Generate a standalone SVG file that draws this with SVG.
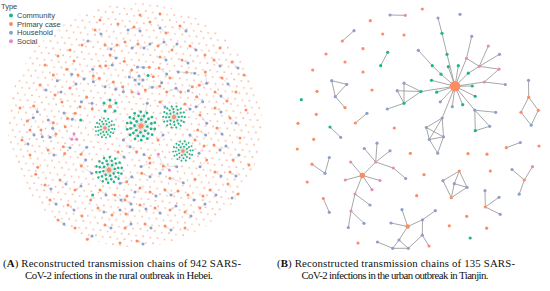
<svg xmlns="http://www.w3.org/2000/svg" xmlns:xlink="http://www.w3.org/1999/xlink" width="550" height="291" viewBox="0 0 550 291">
<style>
.o{fill:#fc8d62}.b{fill:#8da0cb}.g{fill:#1eb589}.p{fill:#e78ac3}
#A circle{r:1.5px}
#B circle{r:1.6px}
.ea{fill:none;stroke:#c4c4c4;stroke-width:.5}
.eb{fill:none;stroke:#9d9d9d;stroke-width:.9}
.sp{fill:none;stroke:#cfcfcf;stroke-width:.45}
.lg{font-family:"Liberation Sans",Arial,sans-serif;font-size:7.5px;fill:#444}
.cap{font-family:"Liberation Serif","Times New Roman",serif;font-size:10.8px;fill:#111}
</style>
<defs>
<pattern id="fp" width="14.4" height="12.4" patternUnits="userSpaceOnUse" patternTransform="rotate(8)">
<g fill="#f6a581"><circle cx="1.8" cy="3.1" r="0.9"/><circle cx="9.1" cy="3.5" r="0.8"/><circle cx="5.3" cy="9.4" r="0.85"/><circle cx="12.6" cy="8.9" r="0.95"/></g>
</pattern>
<g id="star">
<path class="sp" d="M0 0L5.5 .5M0 0L3.6 4.2M0 0L-.4 5.6M0 0L-4.1 3.7M0 0L-5.6-.3M0 0L-3.8-4M0 0L.3-5.5M0 0L4.2-3.6M0 0L8.8 2.6M0 0L6.2 6.6M0 0L2.1 8.9M0 0L-2.7 8.6M0 0L-6.6 6.1M0 0L-9 2.1M0 0L-8.7-2.7M0 0L-6.3-6.5M0 0L-2.2-8.9M0 0L2.6-8.7M0 0L6.5-6.2M0 0L9-2.2M0 0L12 2.6M0 0L9.7 7.5M0 0L5.5 11M0 0L.2 12.3M0 0L-5.2 11.2M0 0L-9.5 7.8M0 0L-12 2.9M0 0L-12-2.6M0 0L-9.7-7.5M0 0L-5.5-11M0 0L-.2-12.3M0 0L5.2-11.2M0 0L9.5-7.8M0 0L12-2.9"/>
<g class="g">
<circle cx="5.5" cy=".5" r="1.2"/><circle cx="3.6" cy="4.2" r="1.2"/><circle cx="-.4" cy="5.6" r="1.2"/><circle cx="-4.1" cy="3.7" r="1.2"/><circle cx="-5.6" cy="-.3" r="1.2"/><circle cx="-3.8" cy="-4" r="1.2"/><circle cx=".3" cy="-5.5" r="1.2"/><circle cx="4.2" cy="-3.6" r="1.2"/>
<circle cx="8.8" cy="2.6" r="1.2"/><circle cx="6.2" cy="6.6" r="1.2"/><circle cx="2.1" cy="8.9" r="1.2"/><circle cx="-2.7" cy="8.6" r="1.2"/><circle cx="-6.6" cy="6.1" r="1.2"/><circle cx="-9" cy="2.1" r="1.2"/><circle cx="-8.7" cy="-2.7" r="1.2"/><circle cx="-6.3" cy="-6.5" r="1.2"/><circle cx="-2.2" cy="-8.9" r="1.2"/><circle cx="2.6" cy="-8.7" r="1.2"/><circle cx="6.5" cy="-6.2" r="1.2"/><circle cx="9" cy="-2.2" r="1.2"/>
<circle cx="12" cy="2.6" r="1.2"/><circle cx="9.7" cy="7.5" r="1.2"/><circle cx="5.5" cy="11" r="1.2"/><circle cx=".2" cy="12.3" r="1.2"/><circle cx="-5.2" cy="11.2" r="1.2"/><circle cx="-9.5" cy="7.8" r="1.2"/><circle cx="-12" cy="2.9" r="1.2"/><circle cx="-12" cy="-2.6" r="1.2"/><circle cx="-9.7" cy="-7.5" r="1.2"/><circle cx="-5.5" cy="-11" r="1.2"/><circle cx="-.2" cy="-12.3" r="1.2"/><circle cx="5.2" cy="-11.2" r="1.2"/><circle cx="9.5" cy="-7.8" r="1.2"/><circle cx="12" cy="-2.9" r="1.2"/>
</g>
<circle class="o" r="2.2"/>
</g>
</defs>

<g id="legend">
<text class="lg" x="1" y="8.5">Type</text>
<circle class="g" cx="11" cy="15.4" r="2"/><text class="lg" x="17" y="18">Community</text>
<circle class="o" cx="11" cy="24" r="2"/><text class="lg" x="17" y="26.7">Primary case</text>
<circle class="b" cx="11" cy="32.7" r="2"/><text class="lg" x="17" y="35.4">Household</text>
<circle class="p" cx="11" cy="41.3" r="2"/><text class="lg" x="17" y="44">Social</text>
</g>

<g id="A">
<ellipse id="a-isolated-cases" cx="135" cy="125" rx="127" ry="122" fill="url(#fp)" opacity=".8"/>
<g id="a-connectors">
<path class="ea" d="M66.7 69.3L71.7 74.3M53.3 75L57.3 80.7M92.7 69.3L93.3 76L93.3 81.7L99.3 78.3M105.7 65.7L112.3 65M131.7 70L129.3 77M137.5 67L143.5 67.5L149.3 67.3M135 80L139 76L143 80L139 84ZM135 80L143 80M153.3 76.7L148 75.5M159 68L166.7 74L170 78M178.3 72L186.7 72.3L194.7 73.3M205.3 72L206.7 83.3L199.3 85.3M105 86.7L113.3 82L115.7 89.3M122.7 86.7L123.3 91.7M132 92L138.7 93.7M145.3 90L152.3 87.3L159.7 86.3L161.7 82.7M166.7 92L176 88.3L180.7 92M188.3 90.7L192.3 86.7M81.3 101.7L86.7 97.3M92 103.3L92.3 108.7M75.3 113.3L72.3 119.3M64 113L67.5 118.5M74 134L76.7 139.3L71.7 139.3ZM63.3 146.7L70 147.7M81 154.3L86.7 147.3M85.7 160L81.3 166L91.7 173.3M33.7 106L37.3 111.7M27.3 121L33.3 117.7M48.3 120L53.3 122.7L52.7 128.3L56 134L50 137.3M41 130L42.3 136.7M90.7 200L92.7 195M92 236L87.3 239.3M196.7 96.7L202.7 101.7L196 106.7M200 115L206.7 123.3M197.7 130L205.7 135M204 146L199 153.3M206.7 160L200 166.7M123.3 140L130 146.7L136.7 151.7M144 154.5L149.5 158M158.3 154.3L163.3 166L169.3 170M163.3 166L176.7 166.7M163.3 166L160 173.3M150 163L141 166.5M141.7 173.3L150 176.7M131.7 176.7L126.7 181.7L120 183.3M170 178.3L183.3 182.7M95 30L101 34M128 30L134 27L140 31M160 28L166 33M180 26L186 31M82 45L88 41M105 45L111 49L117 45M132 48L138 44L144 48L150 44M158 46L164 42M172 50L177 44M190 46L196 50M110 55L116 58M160 57L166 60M182 60L188 63M214 60L220 66M222 78L228 84M215 92L221 96L227 101M215 108L221 112M230 118L236 123M217 128L222 134M214 145L220 150L226 146M233 160L239 155M215 172L221 176M210 190L216 195M232 198L238 194M232 62L238 68M100 190L106 195M115 195L121 200L127 196M135 192L140 188M150 192L156 196M165 190L171 195L178 191M188 195L194 200M98 208L104 212M120 210L126 214L132 210M140 205L146 209M155 208L160 213M170 210L176 206M185 212L191 216M200 208L205 204M105 225L111 228M125 228L131 224M145 224L151 228M165 226L171 230M137 241L143 244M45 185L51 189M60 180L66 184M75 190L81 186M50 200L56 204M68 205L74 210M58 220L64 224M40 85L46 90M55 95L61 92M70 88L76 84M22 140L28 144M110 106.5L104 103M110 106.5L116 103M110 106.5L105 111M110 106.5L115 111M110 106.5L110 100M141 126L147.3 103.3M141 126L123.3 140M185 104L190 109M160 102L165 107M158 140L163 135M48 150L54 155M118 152L124 157M78 75L84 79M195 140L190 135M230 172L236 176M30 130L34 135M125 200L131 204"/>
</g>
<g id="a-community-clusters">
<use href="#star" xlink:href="#star" transform="translate(141 126) scale(1.15)"/>
<use href="#star" xlink:href="#star" transform="translate(105 128) rotate(20) scale(.78)"/>
<use href="#star" xlink:href="#star" transform="translate(174 117) rotate(40) scale(.88)"/>
<use href="#star" xlink:href="#star" transform="translate(183 151) rotate(10) scale(.8)"/>
<use href="#star" xlink:href="#star" transform="translate(109 170) rotate(30) scale(1.05)"/>
</g>
<g id="a-primary" class="o">
<circle cx="74" cy="61"/><circle cx="66.7" cy="69.3"/><circle cx="53.3" cy="75"/><circle cx="93.3" cy="76"/><circle cx="99.3" cy="78.3"/><circle cx="100" cy="66"/><circle cx="105.7" cy="65.7"/><circle cx="124.3" cy="61.3"/><circle cx="131.7" cy="70"/><circle cx="149.3" cy="67.3"/><circle cx="153.3" cy="76.7"/><circle cx="159" cy="68"/><circle cx="170" cy="78"/><circle cx="186.7" cy="72.3"/><circle cx="205.3" cy="72"/><circle cx="199.3" cy="85.3"/><circle cx="113.3" cy="82"/><circle cx="122.7" cy="86.7"/><circle cx="132" cy="92"/><circle cx="145.3" cy="90"/><circle cx="159.7" cy="86.3"/><circle cx="166.7" cy="92"/><circle cx="180.7" cy="92"/><circle cx="192.3" cy="86.7"/><circle cx="86.7" cy="97.3"/><circle cx="92.3" cy="108.7"/><circle cx="80" cy="106.7"/><circle cx="75.3" cy="113.3"/><circle cx="67.5" cy="118.5"/><circle cx="65.3" cy="126.7"/><circle cx="63.3" cy="146.7"/><circle cx="64.7" cy="153.5"/><circle cx="81" cy="154.3"/><circle cx="81.3" cy="166"/><circle cx="33.7" cy="106"/><circle cx="27.3" cy="121"/><circle cx="53.3" cy="122.7"/><circle cx="56" cy="134"/><circle cx="41" cy="130"/><circle cx="37.7" cy="167.3"/><circle cx="35.7" cy="174.3"/><circle cx="90.7" cy="200"/><circle cx="87.3" cy="239.3"/><circle cx="196.7" cy="96.7"/><circle cx="200" cy="115"/><circle cx="197.7" cy="130"/><circle cx="204" cy="146"/><circle cx="206.7" cy="160"/><circle cx="195" cy="179.3"/><circle cx="136.7" cy="151.7"/><circle cx="149.5" cy="158"/><circle cx="163.3" cy="166"/><circle cx="150" cy="163"/><circle cx="141.7" cy="173.3"/><circle cx="126.7" cy="181.7"/><circle cx="170" cy="178.3"/><circle cx="95" cy="30"/><circle cx="118" cy="24"/><circle cx="134" cy="27"/><circle cx="150" cy="22"/><circle cx="166" cy="33"/><circle cx="180" cy="26"/><circle cx="82" cy="45"/><circle cx="105" cy="45"/><circle cx="117" cy="45"/><circle cx="125" cy="42"/><circle cx="138" cy="44"/><circle cx="158" cy="46"/><circle cx="172" cy="50"/><circle cx="190" cy="46"/><circle cx="205" cy="55"/><circle cx="70" cy="50"/><circle cx="110" cy="55"/><circle cx="160" cy="57"/><circle cx="182" cy="60"/><circle cx="58" cy="56"/><circle cx="100" cy="20"/><circle cx="160" cy="14"/><circle cx="140" cy="15"/><circle cx="214" cy="60"/><circle cx="222" cy="78"/><circle cx="215" cy="92"/><circle cx="227" cy="101"/><circle cx="236" cy="92"/><circle cx="215" cy="108"/><circle cx="230" cy="118"/><circle cx="217" cy="128"/><circle cx="240" cy="138"/><circle cx="214" cy="145"/><circle cx="233" cy="160"/><circle cx="215" cy="172"/><circle cx="228" cy="184"/><circle cx="210" cy="190"/><circle cx="238" cy="194"/><circle cx="246" cy="110"/><circle cx="249" cy="165"/><circle cx="244" cy="75"/><circle cx="220" cy="48"/><circle cx="232" cy="62"/><circle cx="100" cy="190"/><circle cx="115" cy="195"/><circle cx="127" cy="196"/><circle cx="140" cy="188"/><circle cx="150" cy="192"/><circle cx="165" cy="190"/><circle cx="178" cy="191"/><circle cx="188" cy="195"/><circle cx="203" cy="196"/><circle cx="98" cy="208"/><circle cx="112" cy="215"/><circle cx="126" cy="214"/><circle cx="140" cy="205"/><circle cx="155" cy="208"/><circle cx="170" cy="210"/><circle cx="185" cy="212"/><circle cx="200" cy="208"/><circle cx="105" cy="225"/><circle cx="125" cy="228"/><circle cx="145" cy="224"/><circle cx="165" cy="226"/><circle cx="185" cy="228"/><circle cx="120" cy="243"/><circle cx="137" cy="241"/><circle cx="45" cy="185"/><circle cx="60" cy="180"/><circle cx="75" cy="190"/><circle cx="50" cy="200"/><circle cx="68" cy="205"/><circle cx="82" cy="216"/><circle cx="58" cy="220"/><circle cx="75" cy="228"/><circle cx="45" cy="65"/><circle cx="40" cy="85"/><circle cx="55" cy="95"/><circle cx="70" cy="88"/><circle cx="62" cy="102"/><circle cx="22" cy="140"/><circle cx="30" cy="155"/><circle cx="20" cy="108"/><circle cx="185" cy="104"/><circle cx="160" cy="102"/><circle cx="158" cy="140"/><circle cx="48" cy="150"/><circle cx="118" cy="152"/><circle cx="78" cy="75"/><circle cx="195" cy="140"/><circle cx="230" cy="172"/><circle cx="30" cy="130"/><circle cx="125" cy="200"/><circle cx="110" cy="106.5" style="r:1.9px"/>
</g>
<g id="a-household" class="b">
<circle cx="71.7" cy="74.3"/><circle cx="57.3" cy="80.7"/><circle cx="92.7" cy="69.3"/><circle cx="93.3" cy="81.7"/><circle cx="112.3" cy="65"/><circle cx="129.3" cy="77"/><circle cx="137.5" cy="67"/><circle cx="143.5" cy="67.5"/><circle cx="135" cy="80"/><circle cx="139" cy="76"/><circle cx="143" cy="80"/><circle cx="139" cy="84"/><circle cx="166.7" cy="74"/><circle cx="178.3" cy="72"/><circle cx="194.7" cy="73.3"/><circle cx="206.7" cy="83.3"/><circle cx="105" cy="86.7"/><circle cx="115.7" cy="89.3"/><circle cx="123.3" cy="91.7"/><circle cx="152.3" cy="87.3"/><circle cx="161.7" cy="82.7"/><circle cx="176" cy="88.3"/><circle cx="188.3" cy="90.7"/><circle cx="81.3" cy="101.7"/><circle cx="92" cy="103.3"/><circle cx="72.3" cy="119.3"/><circle cx="64" cy="113"/><circle cx="70" cy="147.7"/><circle cx="86.7" cy="147.3"/><circle cx="85.7" cy="160"/><circle cx="91.7" cy="173.3"/><circle cx="37.3" cy="111.7"/><circle cx="33.3" cy="117.7"/><circle cx="48.3" cy="120"/><circle cx="52.7" cy="128.3"/><circle cx="50" cy="137.3"/><circle cx="42.3" cy="136.7"/><circle cx="92" cy="236"/><circle cx="202.7" cy="101.7"/><circle cx="196" cy="106.7"/><circle cx="206.7" cy="123.3"/><circle cx="205.7" cy="135"/><circle cx="199" cy="153.3"/><circle cx="200" cy="166.7"/><circle cx="123.3" cy="140"/><circle cx="130" cy="146.7"/><circle cx="144" cy="154.5"/><circle cx="176.7" cy="166.7"/><circle cx="160" cy="173.3"/><circle cx="141" cy="166.5"/><circle cx="150" cy="176.7"/><circle cx="131.7" cy="176.7"/><circle cx="120" cy="183.3"/><circle cx="183.3" cy="182.7"/><circle cx="147.3" cy="103.3"/><circle cx="101" cy="34"/><circle cx="128" cy="30"/><circle cx="140" cy="31"/><circle cx="160" cy="28"/><circle cx="186" cy="31"/><circle cx="88" cy="41"/><circle cx="111" cy="49"/><circle cx="132" cy="48"/><circle cx="144" cy="48"/><circle cx="150" cy="44"/><circle cx="164" cy="42"/><circle cx="177" cy="44"/><circle cx="196" cy="50"/><circle cx="116" cy="58"/><circle cx="166" cy="60"/><circle cx="188" cy="63"/><circle cx="220" cy="66"/><circle cx="228" cy="84"/><circle cx="221" cy="96"/><circle cx="221" cy="112"/><circle cx="236" cy="123"/><circle cx="222" cy="134"/><circle cx="220" cy="150"/><circle cx="226" cy="146"/><circle cx="239" cy="155"/><circle cx="221" cy="176"/><circle cx="216" cy="195"/><circle cx="232" cy="198"/><circle cx="238" cy="68"/><circle cx="106" cy="195"/><circle cx="121" cy="200"/><circle cx="135" cy="192"/><circle cx="156" cy="196"/><circle cx="171" cy="195"/><circle cx="194" cy="200"/><circle cx="104" cy="212"/><circle cx="120" cy="210"/><circle cx="132" cy="210"/><circle cx="146" cy="209"/><circle cx="160" cy="213"/><circle cx="176" cy="206"/><circle cx="191" cy="216"/><circle cx="205" cy="204"/><circle cx="111" cy="228"/><circle cx="131" cy="224"/><circle cx="151" cy="228"/><circle cx="171" cy="230"/><circle cx="143" cy="244"/><circle cx="51" cy="189"/><circle cx="66" cy="184"/><circle cx="81" cy="186"/><circle cx="56" cy="204"/><circle cx="74" cy="210"/><circle cx="64" cy="224"/><circle cx="46" cy="90"/><circle cx="61" cy="92"/><circle cx="76" cy="84"/><circle cx="28" cy="144"/><circle cx="190" cy="109"/><circle cx="165" cy="107"/><circle cx="163" cy="135"/><circle cx="54" cy="155"/><circle cx="124" cy="157"/><circle cx="84" cy="79"/><circle cx="190" cy="135"/><circle cx="236" cy="176"/><circle cx="34" cy="135"/><circle cx="131" cy="204"/>
</g>
<g id="a-social" class="p">
<circle cx="138.7" cy="93.7"/><circle cx="74" cy="134"/><circle cx="76.7" cy="139.3"/><circle cx="71.7" cy="139.3"/><circle cx="158.3" cy="154.3"/><circle cx="169.3" cy="170"/>
</g>
<g id="a-community" class="g">
<circle cx="148" cy="75.5"/><circle cx="92.7" cy="195"/><circle cx="80.7" cy="120"/><circle cx="104" cy="103"/><circle cx="116" cy="103"/><circle cx="105" cy="111"/><circle cx="115" cy="111"/><circle cx="110" cy="100"/>
</g>
</g>

<g id="B">
<g id="b-connectors">
<path class="eb" d="M390 15L405.3 15.3M354 30.7L342.3 41M387.7 52.3L380.7 65.7M331.7 80.7L346.7 84.3L335.3 96.7ZM335.3 96.7L345 107.7M367 113.3L355.3 123M330 127L340.7 137.3M329.3 157.5L325 173.3L312 164.2M323.3 198.5L329.3 212.3M362.3 175.5L350.7 162M362.3 175.5L375.7 162M375.7 162L364.3 148.5M375.7 162L377 143.2M375.7 162L390 150.8M375.7 162L393.3 168L405.7 178.5M362.3 175.5L345.3 180M362.3 175.5L380 180.5M362.3 175.5L372 189.7M362.3 175.5L355 194L370 205M355 194L351 211L364 223.3M351 211L348.3 227.5M438 18L442 33.3L447 54.3L455 86.3M418.3 50.3L432.3 65.7L441 74.2L455 86.3M471.7 36.3L466.5 58.3L455 86.3M466.5 58.3L479.3 66.3L488.3 46M479.3 66.3L499.5 54.3M479.3 66.3L499 69.2L484.3 82M455 86.3L468.3 73.2L479.3 66.3M455 86.3L484.3 82L505.3 84.5M455 86.3L448.3 66.7M455 86.3L458.3 65.7M455 86.3L431.5 80.3M455 86.3L421 91.5M455 86.3L472.3 86M455 86.3L436.7 92.2M455 86.3L475.2 96.3M455 86.3L440.3 101.8M455 86.3L452.3 106.7M455 86.3L462.7 104.7M455 86.3L474.8 110.2M455 86.3L442.2 118M421 91.5L404 83.2L404 103.3L397.2 90.7L421 91.5L404 103.3L387.3 109M474.8 110.2L495.7 112.3M474.8 110.2L475.3 130.7L489.7 126.3L474.8 110.2M442.2 118L426.3 127.5L443.5 136.8L442.2 118L429.3 139.5L426.3 127.5M429.3 139.5L443.5 136.8L437.7 153.2L429.3 139.5M528.5 80.3L528.7 97.2L521 112.3L531.2 125.2L538.3 110.3L528.7 97.2M506.3 147.7L520.3 142.5M459.3 171L443 180.7L451.3 197.7L454.3 183.7L459.3 171L467 187.3L451.3 197.7M454.3 183.7L467 187.3M524.3 180L512 169.5M524.3 180L532.5 166.7M524.3 180L519.2 194.2M485.3 207L485 190.7M485.3 207L499 197.3M485.3 207L500.2 214.3M407.7 226.5L402 209.7M407.7 226.5L391 223M407.7 226.5L422.5 219.8L435.3 210.7M422.5 219.8L422.3 235.2L408.3 248.3M422.3 235.2L429 246M407.7 226.5L399 240L392.7 248.3L408.3 248.3L399 240M392.7 248.3L377.5 242"/>
</g>
<g id="b-hub-cluster">
<circle class="b" cx="438" cy="18"/><circle class="b" cx="418.3" cy="50.3"/><circle class="b" cx="471.7" cy="36.3"/><circle class="b" cx="499.5" cy="54.3"/><circle class="b" cx="505.3" cy="84.5"/><circle class="b" cx="440.3" cy="101.8"/><circle class="b" cx="452.3" cy="106.7"/><circle class="b" cx="474.8" cy="110.2"/><circle class="b" cx="442.2" cy="118"/><circle class="b" cx="404" cy="83.2"/><circle class="b" cx="397.2" cy="90.7"/><circle class="b" cx="387.3" cy="109"/><circle class="b" cx="495.7" cy="112.3"/><circle class="b" cx="489.7" cy="126.3"/><circle class="b" cx="426.3" cy="127.5"/><circle class="b" cx="443.5" cy="136.8"/><circle class="b" cx="429.3" cy="139.5"/><circle class="b" cx="437.7" cy="153.2"/>
<circle class="g" cx="442" cy="33.3"/><circle class="g" cx="447" cy="54.3"/><circle class="g" cx="432.3" cy="65.7"/><circle class="g" cx="441" cy="74.2"/><circle class="g" cx="448.3" cy="66.7"/><circle class="g" cx="458.3" cy="65.7"/><circle class="g" cx="431.5" cy="80.3"/><circle class="g" cx="421" cy="91.5"/><circle class="g" cx="468.3" cy="73.2"/><circle class="g" cx="472.3" cy="86"/><circle class="g" cx="436.7" cy="92.2"/><circle class="g" cx="475.2" cy="96.3"/><circle class="g" cx="462.7" cy="104.7"/><circle class="g" cx="404" cy="103.3"/><circle class="g" cx="475.3" cy="130.7"/>
<circle class="p" cx="466.5" cy="58.3"/><circle class="p" cx="479.3" cy="66.3"/><circle class="p" cx="488.3" cy="46"/><circle class="p" cx="499" cy="69.2"/><circle class="p" cx="484.3" cy="82"/>
<circle class="o" cx="455" cy="86.3" style="r:5.3px"/>
</g>
<g id="b-social-cluster">
<circle class="b" cx="364.3" cy="148.5"/><circle class="b" cx="377" cy="143.2"/><circle class="b" cx="390" cy="150.8"/><circle class="b" cx="405.7" cy="178.5"/><circle class="b" cx="370" cy="205"/><circle class="b" cx="364" cy="223.3"/><circle class="b" cx="348.3" cy="227.5"/>
<circle class="p" cx="350.7" cy="162"/><circle class="p" cx="375.7" cy="162"/><circle class="p" cx="393.3" cy="168"/><circle class="p" cx="345.3" cy="180"/><circle class="p" cx="380" cy="180.5"/><circle class="p" cx="372" cy="189.7"/><circle class="p" cx="355" cy="194"/><circle class="p" cx="351" cy="211"/>
<circle class="o" cx="362.3" cy="175.5" style="r:2.8px"/>
</g>
<g id="b-bottom-cluster">
<circle class="b" cx="402" cy="209.7"/><circle class="b" cx="391" cy="223"/><circle class="b" cx="422.5" cy="219.8"/><circle class="b" cx="435.3" cy="210.7"/><circle class="b" cx="422.3" cy="235.2"/><circle class="b" cx="399" cy="240"/><circle class="b" cx="392.7" cy="248.3"/><circle class="b" cx="408.3" cy="248.3"/><circle class="b" cx="377.5" cy="242"/><circle class="o" cx="429" cy="246"/>
<circle class="o" cx="407.7" cy="226.5" style="r:2.3px"/>
</g>
<g id="b-small-chains">
<circle class="b" cx="390" cy="15"/><circle class="p" cx="405.3" cy="15.3"/>
<circle class="b" cx="354" cy="30.7"/><circle class="o" cx="342.3" cy="41"/>
<circle class="g" cx="387.7" cy="52.3"/><circle class="g" cx="380.7" cy="65.7"/>
<circle class="b" cx="331.7" cy="80.7"/><circle class="b" cx="346.7" cy="84.3"/><circle class="b" cx="335.3" cy="96.7"/><circle class="o" cx="345" cy="107.7"/>
<circle class="b" cx="367" cy="113.3"/><circle class="o" cx="355.3" cy="123"/>
<circle class="g" cx="330" cy="127"/><circle class="b" cx="340.7" cy="137.3"/>
<circle class="b" cx="329.3" cy="157.5"/><circle class="b" cx="325" cy="173.3"/><circle class="o" cx="312" cy="164.2"/>
<circle class="o" cx="323.3" cy="198.5"/><circle class="b" cx="329.3" cy="212.3"/>
<circle class="b" cx="528.5" cy="80.3"/><circle class="o" cx="528.7" cy="97.2"/><circle class="o" cx="521" cy="112.3"/><circle class="o" cx="538.3" cy="110.3"/><circle class="b" cx="531.2" cy="125.2"/>
<circle class="o" cx="506.3" cy="147.7"/><circle class="b" cx="520.3" cy="142.5"/>
<circle class="o" cx="459.3" cy="171"/><circle class="b" cx="443" cy="180.7"/><circle class="b" cx="454.3" cy="183.7"/><circle class="b" cx="467" cy="187.3"/><circle class="o" cx="451.3" cy="197.7"/>
<circle class="o" cx="524.3" cy="180"/><circle class="b" cx="512" cy="169.5"/><circle class="p" cx="532.5" cy="166.7"/><circle class="b" cx="519.2" cy="194.2"/>
<circle class="o" cx="485.3" cy="207"/><circle class="b" cx="485" cy="190.7"/><circle class="b" cx="499" cy="197.3"/><circle class="b" cx="500.2" cy="214.3"/>
</g>
<g id="b-isolated">
<circle class="o" cx="422.3" cy="9"/><circle class="b" cx="460" cy="14.3"/><circle class="o" cx="370.3" cy="20.7"/><circle class="o" cx="382.7" cy="34"/><circle class="o" cx="404" cy="35"/><circle class="o" cx="363" cy="48.7"/><circle class="o" cx="326" cy="54"/><circle class="o" cx="345" cy="62"/><circle class="o" cx="312.7" cy="70"/><circle class="o" cx="363" cy="72"/><circle class="o" cx="317" cy="91.3"/><circle class="o" cx="372" cy="90"/><circle class="g" cx="301.3" cy="99.7"/><circle class="o" cx="316.3" cy="114.3"/><circle class="o" cx="298" cy="123.3"/><circle class="o" cx="394.3" cy="128"/><circle class="o" cx="313.7" cy="139.3"/><circle class="o" cx="297.3" cy="149"/><circle class="o" cx="410.3" cy="153.3"/><circle class="o" cx="307.2" cy="182"/><circle class="o" cx="424" cy="174.7"/><circle class="o" cx="416.7" cy="195.7"/><circle class="o" cx="539" cy="146"/><circle class="o" cx="468" cy="153.7"/><circle class="o" cx="487" cy="154.2"/><circle class="o" cx="490.3" cy="171"/><circle class="o" cx="466.7" cy="216.3"/><circle class="o" cx="449.3" cy="225.8"/><circle class="o" cx="486.7" cy="228.2"/><circle class="g" cx="470.2" cy="238"/><circle class="o" cx="358" cy="243"/>
</g>
</g>

<g id="captions">
<text class="cap" x="122" y="266.5" text-anchor="middle" textLength="238" lengthAdjust="spacing">(<tspan font-weight="bold">A</tspan>) Reconstructed transmission chains of 942 SARS-</text>
<text class="cap" x="119" y="279" text-anchor="middle" textLength="188" lengthAdjust="spacing">CoV-2 infections in the rural outbreak in Hebei.</text>
<text class="cap" x="396" y="266.5" text-anchor="middle" textLength="238" lengthAdjust="spacing">(<tspan font-weight="bold">B</tspan>) Reconstructed transmission chains of 135 SARS-</text>
<text class="cap" x="395" y="279" text-anchor="middle" textLength="187" lengthAdjust="spacing">CoV-2 infections in the urban outbreak in Tianjin.</text>
</g>
</svg>
